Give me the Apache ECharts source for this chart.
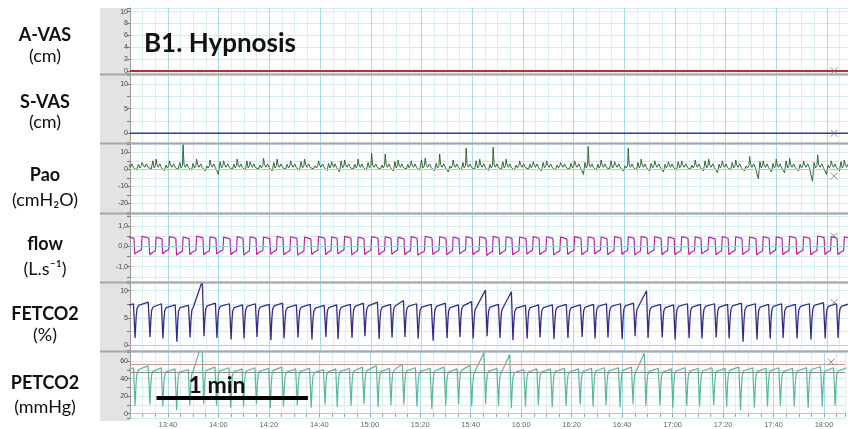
<!DOCTYPE html>
<html><head><meta charset="utf-8">
<script src="https://cdn.jsdelivr.net/npm/echarts@6/dist/echarts.min.js"></script>
<style>html,body{margin:0;padding:0;background:#fff}#c{width:848px;height:429px}</style>
</head><body><div id="c"></div>
<script>
// ---- data (time in seconds; 13:40 = 820 s) ----
const timeMin = 805, timeMax = 1088.3;
// start time of each breath (CO2 trough), s
const breathT = [801.7, 807.0, 812.9, 818.0, 823.5, 828.7, 834.2, 839.3, 844.9, 850.0, 855.1, 860.6, 865.8, 871.3, 876.8, 882.3, 887.1, 892.6, 897.7, 903.3, 908.4, 913.5, 918.7, 924.6, 930.1, 935.2, 940.4, 945.9, 951.0, 956.1, 961.7, 966.8, 972.3, 977.8, 983.4, 988.5, 993.6, 999.2, 1004.3, 1009.4, 1015.0, 1020.1, 1025.6, 1030.7, 1036.3, 1041.4, 1046.9, 1052.4, 1057.6, 1062.7, 1068.2, 1073.7, 1079.3, 1084.4, 1089.6];
// FETCO2 (%) per breath: trough, plateau onset, end-tidal peak
const fetMin = [1.2,1.3,1.5,1.2,0.6,1.4,1.6,1.3,1.0,1.2, 1.5,0.9,1.2,1.4,1.0,1.5,1.1,1.3,1.6,1.1, 1.4,1.5,1.2,0.8,1.3,1.5,1.2,1.6,1.3,0.9, 1.2,1.4,1.1,1.3,1.5,1.2,1.4,1.1,1.6,1.3, 1.4,1.0,1.3,1.2,1.4,1.2,0.6,1.0,1.2,1.3, 1.2,1.0,1.2,1.3];
const fetOn  = [7.1,7.3,7.0,6.9,6.9,7.0,7.2,7.1,6.9,7.1, 7.0,7.2,6.9,7.0,6.8,6.9,7.0,7.1,7.2,7.0, 7.2,7.1,7.0,7.1,6.9,7.2,7.0,7.0,6.9,6.8, 6.9,6.9,7.0,6.9,7.0,7.1,7.1,7.2,7.0,7.0, 6.9,7.1,7.0,7.1,7.0,7.2,7.1,7.0,7.1,7.0, 7.1,7.3,7.1,7.1];
const fetMax = [7.6,7.9,7.6,7.4,7.3,11.8,7.7,7.6,7.4,7.6, 7.5,7.7,7.4,7.5,7.3,7.4,7.5,7.7,7.9,7.5, 8.2,7.6,7.5,7.7,7.4,8.0,10.1,7.5,9.8,7.3, 7.4,7.4,7.5,7.4,7.5,7.6,7.6,7.7,10.0,7.5, 7.4,7.6,7.5,7.6,7.5,7.7,7.6,7.5,7.6,7.5, 7.6,7.8,7.6,7.6];
// PETCO2 (mmHg) per breath
const petMin = [8.3,9.0,10.4,8.3,4.1,9.7,11.0,9.0,6.9,8.3, 10.4,6.2,8.3,9.7,6.9,10.4,7.6,9.0,11.0,7.6, 9.7,10.4,8.3,5.5,9.0,10.4,8.3,11.0,9.0,6.2, 8.3,9.7,7.6,9.0,10.4,8.3,9.7,7.6,11.0,9.0, 9.7,6.9,9.0,8.3,9.7,8.3,4.1,6.9,8.3,9.0, 8.3,6.9,8.3,9.0];
const petOn  = [49.0,50.4,48.3,47.6,47.6,48.3,49.7,49.0,47.6,49.0, 48.3,49.7,47.6,48.3,46.9,47.6,48.3,49.0,49.7,48.3, 49.7,49.0,48.3,49.0,47.6,49.7,48.3,48.3,47.6,46.9, 47.6,47.6,48.3,47.6,48.3,49.0,49.0,49.7,48.3,48.3, 47.6,49.0,48.3,49.0,48.3,49.7,49.0,48.3,49.0,48.3, 49.0,50.4,49.0,49.0];
const petMax = [52.4,54.5,52.4,51.1,50.4,81.4,53.1,52.4,51.1,52.4, 51.8,53.1,51.1,51.8,50.4,51.1,51.8,53.1,54.5,51.8, 56.6,52.4,51.8,53.1,51.1,55.2,69.7,51.8,67.6,50.4, 51.1,51.1,51.8,51.1,51.8,52.4,52.4,53.1,69.0,51.8, 51.1,52.4,51.8,52.4,51.8,53.1,52.4,51.8,52.4,51.8, 52.4,53.8,52.4,52.4];
// flow (L/s) per breath: high plateau, low level
const flowHi = [0.42,0.44,0.40,0.43,0.41,0.45,0.42,0.40,0.43,0.42, 0.41,0.44,0.42,0.40,0.43,0.42,0.44,0.41,0.43,0.42, 0.40,0.43,0.44,0.42,0.41,0.43,0.42,0.44,0.42,0.41, 0.43,0.42,0.40,0.43,0.42,0.41,0.43,0.42,0.44,0.42, 0.41,0.43,0.42,0.40,0.43,0.42,0.41,0.43,0.42,0.44, 0.42,0.46,0.43,0.42];
const flowLo = [-0.40,-0.38,-0.42,-0.36,-0.44,-0.40,-0.42,-0.38,-0.41,-0.43, -0.40,-0.39,-0.42,-0.44,-0.40,-0.41,-0.38,-0.43,-0.40,-0.42, -0.39,-0.41,-0.44,-0.40,-0.42,-0.38,-0.41,-0.45,-0.40,-0.42, -0.39,-0.41,-0.43,-0.40,-0.42,-0.38,-0.41,-0.40,-0.43,-0.39, -0.41,-0.42,-0.40,-0.38,-0.42,-0.41,-0.40,-0.43,-0.39,-0.41, -0.40,-0.42,-0.40,-0.41];
// Pao (cmH2O) per breath: spike, dip, mid-breath bump
const paoHi = [7,4,6,5,14.5,6,5.5,5,6,4.5, 6.5,6,5,6,5,4.5,5.5,6,9.5,9, 5.5,5,6.5,9,5.5,12.5,6,13,6,5, 4.5,5,4,5,13.5,5.5,4.5,12.5,6,5, 4.5,5,5.5,6,5,5.5,7.5,5,6,6.5, 5,8.5,5,5.5];
const paoLo = [0,-0.5,0.3,-0.8,0,-0.5,-1,-3,0,-0.5, 0.2,-1,0,-0.5,0.3,-0.8,-1.5,0,-0.5,0, -1,0.2,-0.5,-1,-1.5,-0.5,0,-0.8,0,-0.5, 0.2,-1,-0.5,0,-3,-0.5,0,-1,-0.5,-1, -1.5,-0.5,0,-1,-2,-0.5,-1,-5.5,-1.5,-2, -1,-7,-3,-1];
const paoMid = [4,3,5,2.5,4,3.5,2,4.5,3,5, 2.5,4,3,4.5,2,3.5,5,3,4,2.5, 4.5,3,5.5,3.5,2,4,5,3,4.5,2.5, 3,4,2.5,3.5,4,3,5,2,4,3.5, 3,4.5,2.5,5,3,4,2,4.5,3.5,5, 3,4,2.5,4.5];
// VAS
const vasT = [805, 1088.3];
const avasV = [0, 0];
const svasV = [0, 0];
// cursor marks (x) at right
const cursorT = 1082.8;
const cursorV = [0, 0, -4, 0.5, 7.8, 59];
// PETCO2 alarm lines
const petLimitHigh = 56.4, petLimitLow = 47.2;
// scale bar (1 min)
const scaleBarT = [815.5, 875.5];
const scaleBarV = 18;

// ---- helpers building polylines from per-breath values ----
function co2Trace(mn, on, mx) {
  const pts = [];
  for (let b = 0; b < breathT.length - 1; b++) {
    const t0 = breathT[b], P = breathT[b + 1] - t0;
    pts.push([t0, mn[b]]);
    pts.push([t0 + 0.07 * P, mn[b] + 0.62 * (on[b] - mn[b])]);
    pts.push([t0 + 0.13 * P, mn[b] + 0.9 * (on[b] - mn[b])]);
    pts.push([t0 + 0.24 * P, on[b]]);
    pts.push([t0 + 0.88 * P, mx[b]]);
  }
  return pts;
}
function flowTrace() {
  const pts = [];
  for (let b = 0; b < breathT.length - 1; b++) {
    const t0 = breathT[b], P = breathT[b + 1] - t0;
    pts.push([t0 - 0.02 * P, flowLo[b]]);
    pts.push([t0 + 0.18 * P, flowLo[b] + 0.12]);
    pts.push([t0 + 0.42 * P, flowLo[b] + 0.2]);
    pts.push([t0 + 0.47 * P, flowHi[b] + 0.05]);
    pts.push([t0 + 0.53 * P, flowHi[b]]);
    pts.push([t0 + 0.92 * P, flowHi[b] - 0.03]);
  }
  return pts;
}
function paoTrace() {
  const pts = [];
  for (let b = 0; b < breathT.length - 1; b++) {
    const t0 = breathT[b], P = breathT[b + 1] - t0;
    pts.push([t0, 1.5]);
    pts.push([t0 + 0.1 * P, paoLo[b]]);
    pts.push([t0 + 0.22 * P, paoMid[b]]);
    pts.push([t0 + 0.32 * P, 0.8]);
    pts.push([t0 + 0.42 * P, 2.2]);
    pts.push([t0 + 0.47 * P, paoHi[b]]);
    pts.push([t0 + 0.54 * P, 2.8]);
    pts.push([t0 + 0.64 * P, 1.2]);
    pts.push([t0 + 0.76 * P, 3.2]);
    pts.push([t0 + 0.88 * P, 1.0]);
  }
  return pts;
}
const zip = (xs, ys) => xs.map((x, i) => [x, ys[i]]);

// ---- layout ----
const panels = [
  {top: 8,     height: 65.5, min: -0.42, max: 10.62, step: 2,   lab: 2},
  {top: 75.5,  height: 67,   min: -1.87, max: 11.72, step: 2.5, lab: 5},
  {top: 144.5, height: 68,   min: -25.4, max: 14.6,  step: 5,   lab: 10},
  {top: 214.5, height: 67,   min: -1.727,max: 1.565, step: 0.5, lab: 1, comma: true},
  {top: 283.5, height: 67,   min: -1.01, max: 11.33, step: 2.5, lab: 5},
  {top: 352.5, height: 68.5, min: -4.9,  max: 69.8,  step: 10,  lab: 20}
];
const MINOR = '#d9eff4', MAJOR = '#a6dde9', HGRID = '#d4edf3', ZERO = '#98d8e4';
const isMult = (v, s) => Math.abs(v / s - Math.round(v / s)) < 1e-6;
const fmtTime = v => {
  if (!isMult(v, 20)) return '';
  const r = Math.round(v);
  return Math.floor(r / 60) + ':' + String(r % 60).padStart(2, '0');
};

const grids = [], xAxes = [], yAxes = [];
panels.forEach((p, i) => {
  grids.push({left: 130, right: 0, top: p.top, height: p.height});
  xAxes.push({
    gridIndex: i, type: 'value', min: timeMin, max: timeMax, interval: 5,
    axisLine: {show: i === 5, lineStyle: {color: '#9a9a9a'}},
    axisTick: {show: i === 5, length: 3, lineStyle: {color: '#999'}},
    axisLabel: {show: i === 5, fontSize: 7.5, color: '#666', margin: 3, formatter: fmtTime, fontFamily: 'Liberation Sans'},
    splitLine: {show: true, lineStyle: {color: [MINOR, MINOR, MINOR, MAJOR], width: 1}}
  });
  yAxes.push({
    gridIndex: i, type: 'value', min: p.min, max: p.max, minInterval: p.step, maxInterval: p.step,
    axisLine: {show: true, lineStyle: {color: '#9a9a9a'}},
    axisTick: {show: true, length: 3, lineStyle: {color: '#777'}},
    axisLabel: {fontSize: 7, color: '#444', margin: 2, fontFamily: 'Liberation Sans',
      formatter: v => {
        if (!isMult(v, p.lab)) return '';
        const r = Math.round(v / p.lab) * p.lab;
        return p.comma ? r.toFixed(1).replace('.', ',') : String(r);
      }},
    splitLine: {show: true, lineStyle: {color: HGRID}}
  });
});

const zeroLine = {silent: true, symbol: 'none', label: {show: false},
  lineStyle: {color: ZERO, type: 'solid', width: 1}, data: [{yAxis: 0}]};

const series = [
  {type: 'line', xAxisIndex: 0, yAxisIndex: 0, data: zip(vasT, avasV), symbol: 'none',
   lineStyle: {color: '#c8282e', width: 2}},
  {type: 'line', xAxisIndex: 1, yAxisIndex: 1, data: zip(vasT, svasV), symbol: 'none',
   lineStyle: {color: '#2a3fae', width: 1.5}},
  {type: 'line', xAxisIndex: 2, yAxisIndex: 2, data: paoTrace(), symbol: 'none',
   lineStyle: {color: '#2e6a30', width: 1}, markLine: zeroLine},
  {type: 'line', xAxisIndex: 3, yAxisIndex: 3, data: flowTrace(), symbol: 'none',
   lineStyle: {color: '#b8239c', width: 1.2}, markLine: zeroLine},
  {type: 'line', xAxisIndex: 4, yAxisIndex: 4, data: co2Trace(fetMin, fetOn, fetMax), symbol: 'none',
   lineStyle: {color: '#3a2b82', width: 1.3}, markLine: zeroLine},
  {type: 'line', xAxisIndex: 5, yAxisIndex: 5, data: co2Trace(petMin, petOn, petMax), symbol: 'none',
   lineStyle: {color: '#5bb799', width: 1.2},
   markLine: {silent: true, symbol: 'none', label: {show: false},
     data: [{yAxis: 0, lineStyle: {color: ZERO, type: 'solid', width: 1}},
            {yAxis: petLimitHigh, lineStyle: {color: '#d39090', type: 'solid', width: 1}},
            {yAxis: petLimitLow, lineStyle: {color: '#8c8c8c', type: 'solid', width: 1}}]}},
  {type: 'line', xAxisIndex: 5, yAxisIndex: 5, data: scaleBarT.map(t => [t, scaleBarV]), symbol: 'none',
   lineStyle: {color: '#000', width: 4, cap: 'butt'}, z: 5}
];
cursorV.forEach((v, i) => series.push({
  type: 'scatter', xAxisIndex: i, yAxisIndex: i, data: [[cursorT, v]],
  symbol: 'path://M0,0L10,10M10,0L0,10', symbolSize: 7,
  itemStyle: {color: 'rgba(0,0,0,0)', borderColor: '#6f6f6f', borderWidth: 1}, z: 6
}));

const F = 'Lato, "Open Sans", sans-serif';
const txt = (x, y, t, size, bold) => ({
  type: 'text', x, y, z: 20,
  style: {text: t, fontSize: size, fontWeight: bold ? 'bold' : 'normal', fontFamily: F,
          fill: '#111', align: 'center', verticalAlign: 'middle'}
});

const graphic = [
  {type: 'rect', shape: {x: 100, y: 8, width: 30, height: 413}, style: {fill: '#e3e3e3'}, z: -10},
  ...[73.5, 142.5, 212.5, 281.5, 350.5].map(y => ({type: 'rect', shape: {x: 100, y, width: 748, height: 2}, style: {fill: '#a7a7a7'}, z: 10})),
  txt(45, 35, 'A-VAS', 18, true), txt(45, 56, '(cm)', 18, false),
  txt(45, 102, 'S-VAS', 18, true), txt(45, 122, '(cm)', 18, false),
  txt(45, 175, 'Pao', 18, true), txt(45, 200, '(cmH₂O)', 18, false),
  txt(45, 244, 'flow', 18, true), txt(45, 269, '(L.s⁻¹)', 18, false),
  txt(45, 314, 'FETCO2', 18, true), txt(45, 335, '(%)', 18, false),
  txt(45, 383, 'PETCO2', 18, true), txt(45, 407, '(mmHg)', 18, false),
  {type: 'text', x: 144, y: 44, z: 20, style: {text: 'B1. Hypnosis', fontSize: 26, fontWeight: 'bold', fontFamily: F, fill: '#111', align: 'left', verticalAlign: 'middle'}},
  txt(217, 386, '1 min', 23, true)
];

const chart = echarts.init(document.getElementById('c'), null, {renderer: 'canvas'});
chart.setOption({animation: false, backgroundColor: '#fff', grid: grids, xAxis: xAxes, yAxis: yAxes, series, graphic});
</script></body></html>
